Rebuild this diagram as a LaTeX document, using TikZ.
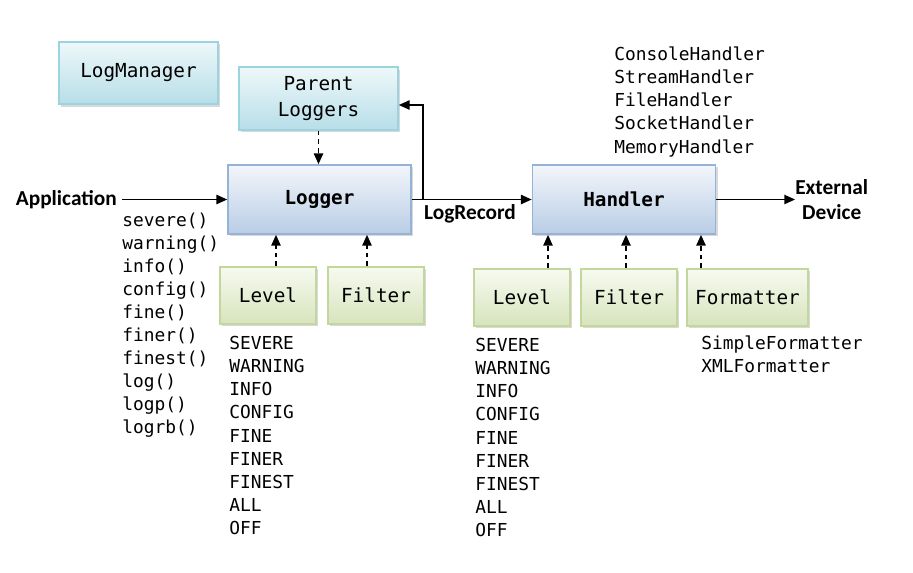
\documentclass[tikz,border=0pt]{standalone}
\usepackage{fontspec}
\newfontfamily\monof{DejaVu Sans Mono}
\newfontfamily\calib{Carlito}
\usetikzlibrary{arrows.meta,shadows}
\definecolor{bluebd}{HTML}{95B3D7}
\definecolor{bluetop}{HTML}{F3F6FB}
\definecolor{bluebot}{HTML}{B9CDE5}
\definecolor{cyanbd}{HTML}{9CD3E0}
\definecolor{cyantop}{HTML}{EEF8FA}
\definecolor{cyanbot}{HTML}{B7DEE8}
\definecolor{greenbd}{HTML}{C3D69B}
\definecolor{greentop}{HTML}{F7FAF0}
\definecolor{greenbot}{HTML}{D7E4BD}
\begin{document}
\begin{tikzpicture}[x=0.75pt,y=-0.75pt,
  box/.style={draw, line width=1.3pt, inner sep=0pt,
    drop shadow={shadow xshift=1.8pt, shadow yshift=-1.8pt, opacity=0.25, fill=black!60},
    font=\monof\fontsize{14.5}{20}\selectfont},
  bluebox/.style={box, draw=bluebd, top color=bluetop, bottom color=bluebot,
    minimum width=137.25pt, minimum height=51.75pt,
    font=\monof\bfseries\fontsize{14.5}{17}\selectfont},
  cyanbox/.style={box, draw=cyanbd, top color=cyantop, bottom color=cyanbot,
    minimum width=119.25pt, minimum height=47pt, align=center},
  greenbox/.style={box, draw=greenbd, top color=greentop, bottom color=greenbot,
    minimum width=72pt, minimum height=42.75pt},
  lst/.style={anchor=base west, inner sep=0pt, font=\monof\fontsize{13.4}{16}\selectfont},
  lbl/.style={inner sep=0pt, font=\calib\bfseries\fontsize{16}{19}\selectfont},
  arr/.style={line width=1pt, -{Triangle[length=8pt,width=7pt]}},
  dep/.style={line width=1pt, dash pattern=on 3.5pt off 3pt, -{Triangle[length=8pt,width=7pt]}}
]
\useasboundingbox (0,0) rectangle (913,572);

% boxes
\node[cyanbox] (mgr) at (138.5,73) {LogManager};
\node[cyanbox] (parent) at (318.5,98.5) {Parent\\Loggers};
\node[bluebox] (logger) at (319.5,199.5) {Logger};
\node[bluebox] (handler) at (624,199.5) {Handler};
\node[greenbox] (levL) at (268,295.5) {Level};
\node[greenbox] (filL) at (376,295.5) {Filter};
\node[greenbox] (levR) at (522,297.5) {Level};
\node[greenbox] (filR) at (629,297.5) {Filter};
\node[greenbox, minimum width=90.75pt] (fmt) at (747.5,297.5) {Formatter};

% labels
\node[lbl, anchor=east] (app) at (117,199.5) {Application};
\node[lbl] (lr) at (470,214) {LogRecord};
\node[lbl, anchor=west, align=center] (ext) at (795,199.5) {External\\Device};

% connectors
\draw[arr] (app.east) ++(5,0) coordinate (appstart) -- (logger.west);
\draw[dep] (parent.south) -- (parent.south |- logger.north);
\draw[dep] (276,0 |- levL.north) -- (276,0 |- logger.south);
\draw[dep] (367,0 |- filL.north) -- (367,0 |- logger.south);
\draw[dep] (548,0 |- levR.north) -- (548,0 |- handler.south);
\draw[dep] (626,0 |- filR.north) -- (626,0 |- handler.south);
\draw[dep] (701,0 |- fmt.north) -- (701,0 |- handler.south);
\draw[arr] (logger.east) -- (handler.west);
\coordinate (br) at (423,105);
\draw[arr] (br |- logger.east) -- (br) -- (parent.east |- br);
\draw[arr] (handler.east) -- (ext.west);

% lists
\foreach \t [count=\i] in {severe(),warning(),info(),config(),fine(),finer(),finest(),log(),logp(),logrb()}
  \node[lst, name=m\i] at (122,203+23*\i) {\t};
\foreach \t [count=\i] in {SEVERE,WARNING,INFO,CONFIG,FINE,FINER,FINEST,ALL,OFF}
  \node[lst, name=la\i] at (229,326+23.2*\i) {\t};
\foreach \t [count=\i] in {SEVERE,WARNING,INFO,CONFIG,FINE,FINER,FINEST,ALL,OFF}
  \node[lst, name=lb\i] at (475,328+23.2*\i) {\t};
\foreach \t [count=\i] in {ConsoleHandler,StreamHandler,FileHandler,SocketHandler,MemoryHandler}
  \node[lst, name=h\i] at (614,37+23.2*\i) {\t};
\foreach \t [count=\i] in {SimpleFormatter,XMLFormatter}
  \node[lst, name=f\i] at (701,326+23*\i) {\t};
\end{tikzpicture}
\end{document}
